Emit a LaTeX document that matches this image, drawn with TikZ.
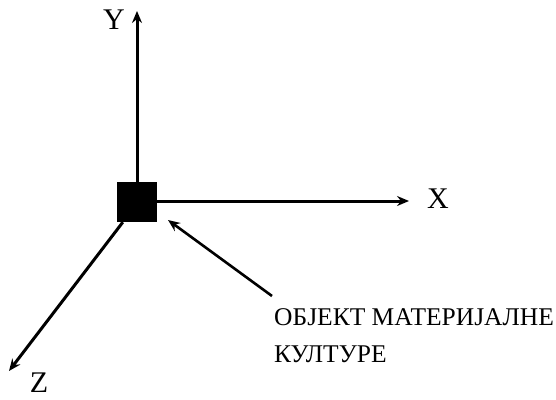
\documentclass[tikz,border=0pt]{standalone}
\usepackage{fontspec}
\setmainfont{Liberation Serif}
\usetikzlibrary{arrows.meta}
\tikzset{
  axis/.style={line width=3pt,-{Stealth[length=12pt,width=10pt,inset=4pt]}},
  lbl/.style={inner sep=0pt,font=\fontsize{30}{32}\selectfont},
}
\begin{document}
\begin{tikzpicture}[x=1pt,y=-1pt]
\useasboundingbox (0,0) rectangle (556,399);
\node[fill=black,minimum size=40pt,inner sep=0pt] (obj) at (137,202) {};
\coordinate (ytip) at (137,11);
\coordinate (xtip) at (409,201);
\coordinate (ztip) at (9,371);
\coordinate (pstart) at (272,296);
\coordinate (ptip) at (168,220);
\draw[axis] (obj.north) -- (ytip);
\draw[axis] (obj.east |- xtip) -- (xtip);
\draw[axis] ([xshift=6pt]obj.south west) -- (ztip);
\draw[axis,line width=2.6pt] (pstart) -- (ptip);
\node[lbl] (ylab) at (114,20) {Y};
\node[lbl] (xlab) at (438,199) {X};
\node[lbl] (zlab) at (39,383) {Z};
\node[inner sep=0pt,anchor=base west,align=left,font=\fontsize{25.5}{37}\selectfont] (txt) at (274,362) {ОБЈЕКТ МАТЕРИЈАЛНЕ\\КУЛТУРЕ};
\end{tikzpicture}
\end{document}
